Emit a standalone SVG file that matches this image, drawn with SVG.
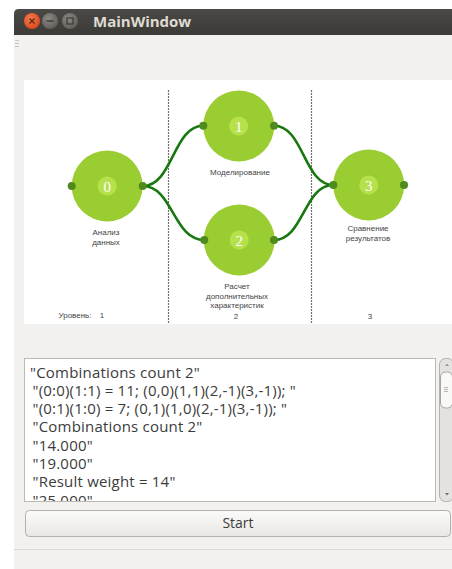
<svg xmlns="http://www.w3.org/2000/svg" width="452" height="569" viewBox="0 0 452 569">
  <style>
    .lbl { font-family: "Liberation Sans", Arial, sans-serif; font-size: 8px; fill: #444; text-anchor: middle; }
    .num { font-family: "Liberation Serif", "Times New Roman", serif; font-size: 15px; fill: #ffffff; text-anchor: middle; }
    .log { font-family: "Open Sans", "Noto Sans", sans-serif; font-size: 15px; fill: #3c3c3c; letter-spacing: 0.2px; }
    .node-body { fill: #9acd32; }
    .node-core { fill: #b6e14c; }
    .port { fill: #4e8a1e; }
    .edge { fill: none; stroke: #17780f; stroke-width: 2.6; }
    .divider { stroke: #6e6e6e; stroke-width: 1.2; stroke-dasharray: 2 1; }
  </style>
  <defs>
    <linearGradient id="titleGrad" x1="0" y1="0" x2="0" y2="1">
      <stop offset="0" stop-color="#4a4945"/>
      <stop offset="1" stop-color="#3b3a36"/>
    </linearGradient>
    <radialGradient id="closeGrad" cx="0.4" cy="0.35" r="0.7">
      <stop offset="0" stop-color="#f57a4a"/>
      <stop offset="1" stop-color="#d9461c"/>
    </radialGradient>
    <radialGradient id="btnGrad" cx="0.4" cy="0.35" r="0.7">
      <stop offset="0" stop-color="#8a8984"/>
      <stop offset="1" stop-color="#5e5d59"/>
    </radialGradient>
    <linearGradient id="startGrad" x1="0" y1="0" x2="0" y2="1">
      <stop offset="0" stop-color="#fbfbfa"/>
      <stop offset="1" stop-color="#e9e7e4"/>
    </linearGradient>
    <clipPath id="logClip">
      <rect x="25" y="359" width="410" height="142"/>
    </clipPath>
  </defs>

  <!-- page / window background -->
  <rect x="0" y="0" width="452" height="569" fill="#ffffff"/>
  <rect x="14" y="9" width="438" height="560" fill="#f2f1f0"/>

  <!-- title bar -->
  <path d="M14,35 V14 Q14,9 19,9 H452 V35 Z" fill="url(#titleGrad)"/>
  <circle cx="32" cy="21" r="8" fill="url(#closeGrad)"/>
  <path d="M29.5,18.5 L34.5,23.5 M34.5,18.5 L29.5,23.5" stroke="#5a2a16" stroke-width="1.3"/>
  <circle cx="50" cy="21" r="8" fill="url(#btnGrad)"/>
  <line x1="46.5" y1="21" x2="53.5" y2="21" stroke="#3a3935" stroke-width="1.4"/>
  <circle cx="70" cy="21" r="8" fill="url(#btnGrad)"/>
  <rect x="67" y="18" width="6" height="6" fill="none" stroke="#3a3935" stroke-width="1.2"/>
  <text x="93" y="26.5" font-family="Open Sans, Noto Sans, sans-serif" font-size="15" font-weight="bold" fill="#dfdbd2">MainWindow</text>

  <!-- toolbar grip -->
  <g stroke="#c9c6c1" stroke-width="1">
    <line x1="15" y1="40.5" x2="19" y2="40.5"/>
    <line x1="15" y1="43.5" x2="19" y2="43.5"/>
    <line x1="15" y1="46.5" x2="19" y2="46.5"/>
  </g>

  <!-- diagram canvas -->
  <rect x="24" y="80" width="428" height="244" fill="#ffffff"/>
  <line class="divider" x1="168.5" y1="90" x2="168.5" y2="323"/>
  <line class="divider" x1="311.5" y1="90" x2="311.5" y2="323"/>

  <!-- connectors -->
  <g id="edges">
    <path class="edge" d="M142.7,186 C173,186 173,125.7 203.3,125.7"/>
    <path class="edge" d="M142.7,186 C173,186 173,240 204.3,240"/>
    <path class="edge" d="M274,125.7 C303.7,125.7 303.7,185 333.3,185"/>
    <path class="edge" d="M274,240 C303.7,240 303.7,185 333.3,185"/>
  </g>

  <!-- stage nodes -->
  <g id="node0">
    <circle class="node-body" cx="107.2" cy="186" r="35.5"/>
    <circle class="node-core" cx="107.2" cy="186" r="9.5"/>
    <text class="num" x="107.2" y="191.5">0</text>
    <circle class="port" cx="71.7" cy="186" r="4"/>
    <circle class="port" cx="142.7" cy="186" r="4"/>
    <text class="lbl" x="106" y="234.5">Анализ</text>
    <text class="lbl" x="106" y="244.5">данных</text>
  </g>
  <g id="node1">
    <circle class="node-body" cx="238.7" cy="126" r="35.5"/>
    <circle class="node-core" cx="238.7" cy="126" r="9.5"/>
    <text class="num" x="238.7" y="131.5">1</text>
    <circle class="port" cx="203.3" cy="125.7" r="4"/>
    <circle class="port" cx="274" cy="125.7" r="4"/>
    <text class="lbl" x="240" y="174.5">Моделирование</text>
  </g>
  <g id="node2">
    <circle class="node-body" cx="239.2" cy="240" r="35.5"/>
    <circle class="node-core" cx="239.2" cy="240" r="9.5"/>
    <text class="num" x="239.2" y="245.5">2</text>
    <circle class="port" cx="204.3" cy="240" r="4"/>
    <circle class="port" cx="274" cy="240" r="4"/>
    <text class="lbl" x="237" y="288.5">Расчет</text>
    <text class="lbl" x="237" y="298.5">дополнительных</text>
    <text class="lbl" x="237" y="307.5">характеристик</text>
  </g>
  <g id="node3">
    <circle class="node-body" cx="368.7" cy="185" r="35.5"/>
    <circle class="node-core" cx="368.7" cy="185" r="9.5"/>
    <text class="num" x="368.7" y="190.5">3</text>
    <circle class="port" cx="333.3" cy="185" r="4"/>
    <circle class="port" cx="404" cy="185" r="4"/>
    <text class="lbl" x="368" y="230.5">Сравнение</text>
    <text class="lbl" x="368" y="240.5">результатов</text>
  </g>

  <!-- level row -->
  <text class="lbl" x="75" y="318">Уровень:</text>
  <text class="lbl" x="102" y="318">1</text>
  <text class="lbl" x="236" y="318.5">2</text>
  <text class="lbl" x="370" y="318.5">3</text>

  <!-- log view -->
  <rect x="24.5" y="358.5" width="411" height="143" fill="#ffffff" stroke="#bcb8b2"/>
  <g clip-path="url(#logClip)" class="log">
    <text x="30" y="377.5">"Combinations count 2"</text>
    <text x="32.5" y="395.8">"(0:0)(1:1) = 11; (0,0)(1,1)(2,-1)(3,-1)); "</text>
    <text x="32.5" y="414.1">"(0:1)(1:0) = 7; (0,1)(1,0)(2,-1)(3,-1)); "</text>
    <text x="32.5" y="432.4">"Combinations count 2"</text>
    <text x="32.5" y="450.7">"14.000"</text>
    <text x="32.5" y="469">"19.000"</text>
    <text x="32.5" y="487.3">"Result weight = 14"</text>
    <text x="32.5" y="505.6">"25.000"</text>
  </g>

  <!-- scrollbar -->
  <rect x="439.5" y="358.5" width="14" height="143" rx="6" fill="#e4e2df" stroke="#b3afa9"/>
  <rect x="440.5" y="372" width="12" height="36" rx="5" fill="#f8f8f7" stroke="#a7a39d"/>
  <g stroke="#a7a39d" stroke-width="0.8">
    <line x1="444" y1="387.5" x2="448" y2="387.5"/>
    <line x1="444" y1="389.5" x2="448" y2="389.5"/>
    <line x1="444" y1="391.5" x2="448" y2="391.5"/>
  </g>
  <path d="M445,366 L447,363.5 L449,366 Z" fill="#9a968f"/>
  <path d="M445,493 L447,495.5 L449,493 Z" fill="#6e6a64"/>

  <!-- start button -->
  <rect x="25.5" y="510.5" width="425" height="26" rx="4" fill="url(#startGrad)" stroke="#b3afa9"/>
  <text x="238" y="528" font-family="Open Sans, Noto Sans, sans-serif" font-size="14" fill="#3c3c3c" text-anchor="middle">Start</text>

  <!-- status bar separator -->
  <line x1="14" y1="549.5" x2="452" y2="549.5" stroke="#dcd9d5"/>
</svg>
